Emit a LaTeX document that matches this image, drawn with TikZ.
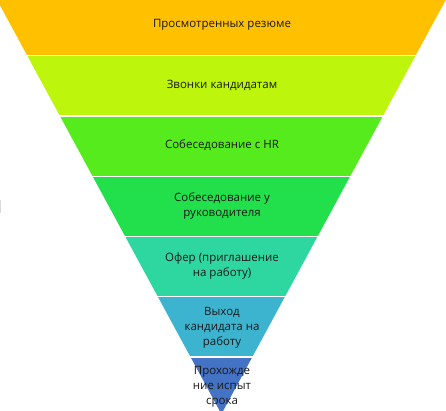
\documentclass[tikz,border=0pt]{standalone}
\usepackage{fontspec}
\setmainfont{Open Sans}
\usetikzlibrary{calc}
\definecolor{cA}{RGB}{255,192,0}
\definecolor{cB}{RGB}{190,245,12}
\definecolor{cC}{RGB}{85,235,28}
\definecolor{cD}{RGB}{34,224,76}
\definecolor{cE}{RGB}{46,214,160}
\definecolor{cF}{RGB}{60,180,208}
\definecolor{cG}{RGB}{68,114,196}
\tikzset{
  lbl/.style={align=center,text=black!90,font=\fontsize{11.5}{15}\selectfont,inner sep=0pt},
  sep/.style={white,line width=1.6pt}
}
\begin{document}
\begin{tikzpicture}[x=1pt,y=-1pt]
\useasboundingbox (0,0) rectangle (446,411);
\clip (0,0) rectangle (446,411);
\coordinate (L) at (-2.9,0);
\coordinate (R) at (445.7,0);
\coordinate (T) at (221.4,414);
\foreach \a/\b/\c [count=\i] in {0/0.1341/cA,0.1341/0.2802/cB,0.2802/0.4263/cC,0.4263/0.5713/cD,0.5713/0.7162/cE,0.7162/0.8623/cF,0.8623/1/cG}{
  \fill[\c] ($(L)!\a!(T)$) coordinate (l\i) -- ($(R)!\a!(T)$) -- ($(R)!\b!(T)$) -- ($(L)!\b!(T)$) -- cycle;
}
\foreach \b in {0.1341,0.2802,0.4263,0.5713,0.7162,0.8623}{
  \draw[sep] ($(L)!\b!(T)+(-3,0)$) -- ($(R)!\b!(T)+(3,0)$);
}
\fill[black!15] (0,200) rectangle (1,213);
\node[lbl] (t1) at (222,25) {Просмотренных резюме};
\node[lbl] (t2) at (222,85.5) {Звонки кандидатам};
\node[lbl] (t3) at (222,145) {Собеседование с HR};
\node[lbl] (t4) at (222,206) {Собеседование у\\руководителя};
\node[lbl] (t5) at (222,266.5) {Офер (приглашение\\на работу)};
\node[lbl] (t6) at (222,327.5) {Выход\\кандидата на\\работу};
\node[lbl] (t7) at (222,387) {Прохожде\\ние испыт\\срока};
\end{tikzpicture}
\end{document}
